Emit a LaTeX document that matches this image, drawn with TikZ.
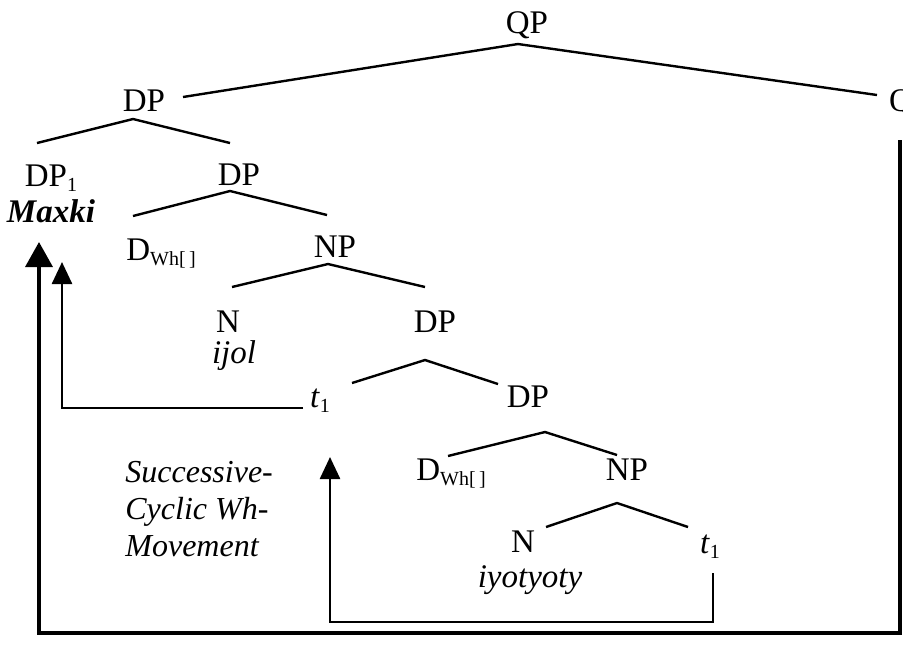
\documentclass[tikz,border=0pt]{standalone}
\usepackage{fontspec}
\setmainfont{Liberation Serif}
\usetikzlibrary{arrows.meta}

\newcommand\lo[1]{\raisebox{-0.35ex}{\fontsize{10}{10}\selectfont #1}}

\tikzset{
  cat/.style={inner sep=0pt, anchor=base, font=\fontsize{16.5}{19}\selectfont},
  branch/.style={line width=1.2pt},
  move/.style={line width=1.3pt, -{Triangle[width=10pt,length=11pt]}},
  bigmove/.style={line width=1.8pt, -{Triangle[width=13.5pt,length=12.5pt]}},
}

\begin{document}
\begin{tikzpicture}[x=0.5pt, y=-0.5pt]
\useasboundingbox (0,0) rectangle (903,645);

% categories, placed on their baselines
\node[cat] (qp)   at (527,33)  {QP};
\node[cat] (dpa)  at (144,111) {DP};
\node[cat] (q)    at (901,111) {Q};
\node[cat] (dp1)  at (51,186)  {DP\lo{1}};
\node[cat] (maxki) at (51,222) {\textbf{\textit{Maxki}}};
\node[cat] (dpb)  at (239,185) {DP};
\node[cat] (dwh)  at (161,260) {D\lo{Wh[\,]}};
\node[cat] (np)   at (335,257) {NP};
\node[cat] (n)    at (228,332) {N};
\node[cat] (ijol) at (234,363) {\textit{ijol}};
\node[cat] (dpc)  at (435,332) {DP};
\node[cat] (t1a)  at (320,407) {\textit{t}\lo{1}};
\node[cat] (dpd)  at (528,407) {DP};
\node[cat] (dwh2) at (451,480) {D\lo{Wh[\,]}};
\node[cat] (np2)  at (627,480) {NP};
\node[cat] (n2)   at (523,552) {N};
\node[cat] (iyo)  at (530,587) {\textit{iyotyoty}};
\node[cat] (t1b)  at (710,553) {\textit{t}\lo{1}};
\node[cat, anchor=west, align=left, font=\fontsize{16}{18.5}\selectfont\itshape]
  (scm) at (125,509) {Successive-\\Cyclic Wh-\\Movement};

% branches
\draw[branch] ([shift={(39,-14)}]dpa.base) -- ([shift={(-9,11)}]qp.base) -- ([shift={(-24,-16)}]q.base);
\draw[branch] ([shift={(-14,-43)}]dp1.base) -- ([shift={(-11,8)}]dpa.base) -- ([shift={(-9,-42)}]dpb.base);
\draw[branch] ([shift={(-28,-44)}]dwh.base) -- ([shift={(-9,6)}]dpb.base) -- ([shift={(-8,-42)}]np.base);
\draw[branch] ([shift={(4,-45)}]n.base) -- ([shift={(-7,7)}]np.base) -- ([shift={(-10,-45)}]dpc.base);
\draw[branch] ([shift={(32,-24)}]t1a.base) -- ([shift={(-10,28)}]dpc.base) -- ([shift={(-30,-23)}]dpd.base);
\draw[branch] ([shift={(-3,-24)}]dwh2.base) -- ([shift={(17,25)}]dpd.base) -- ([shift={(-10,-25)}]np2.base);
\draw[branch] ([shift={(23,-25)}]n2.base) -- ([shift={(-10,23)}]np2.base) -- ([shift={(-22,-26)}]t1b.base);

% movement arrows
\draw[bigmove] ([shift={(-1,29)}]q.base) -- ++(0,493) -| ([shift={(-12,20)}]maxki.base);
\draw[move] ([shift={(-17,1)}]t1a.base) -| ([shift={(11,40)}]maxki.base);
\draw[move] ([shift={(3,20)}]t1b.base) -- ++(0,49) -| ([shift={(10,50)}]t1a.base);
\end{tikzpicture}
\end{document}
